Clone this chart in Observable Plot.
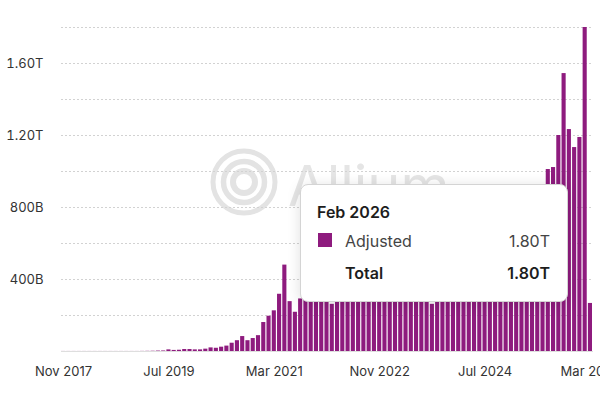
<!DOCTYPE html>
<html>
<head>
<meta charset="utf-8">
<script src="https://cdn.jsdelivr.net/npm/d3@7"></script>
<script src="https://cdn.jsdelivr.net/npm/@observablehq/plot@0.6"></script>
<style>
  html, body { margin: 0; padding: 0; background: #fff; overflow: hidden; }
  #wrap { position: relative; width: 600px; height: 400px; font-family: Inter, "Noto Sans", sans-serif; }
  #wm { position: absolute; left: 0; top: 0; z-index: 0; }
  #chart { position: absolute; left: 0; top: 0; width: 600px; height: 400px; z-index: 1; }
  #tip {
    position: absolute; left: 300px; top: 184px; width: 268px; height: 118px;
    box-sizing: border-box; background: #fff; border: 1px solid #d4d4d4; border-radius: 8px;
    box-shadow: 0 2px 14px rgba(0,0,0,0.13); z-index: 2; font-family: Inter, sans-serif;
  }
  #tip .row { position: absolute; left: 0; right: 0; height: 20px; line-height: 20px; font-size: 16px; }
  #tip .l { position: absolute; left: 44px; }
  #tip .r { position: absolute; right: 17px; }
  #tip .title { left: 16px; font-weight: 600; color: #1d1d1d; }
  #tip .sw { position: absolute; left: 17px; top: 48px; width: 14px; height: 14px; }
</style>
</head>
<body>
<div id="wrap">
  <svg id="wm" width="600" height="400">
    <g fill="none" stroke="#e3e3e3">
      <circle cx="244" cy="182" r="31" stroke-width="5"></circle>
      <circle cx="244" cy="182" r="20.5" stroke-width="5.5"></circle>
      <circle cx="244" cy="182" r="11" stroke-width="6"></circle>
    </g>
    <text x="288" y="206" font-family="Inter, sans-serif" font-size="56" font-weight="400" fill="#e5e5e5">Allium</text>
  </svg>
  <div id="chart"></div>
  <div id="tip"></div>
</div>
<script>
// ---- data ----
const startMonth = "2017-11";
const seriesName = "Adjusted";
const barColor = "#8E1B7E";
// monthly values, in billions (Nov 2017 .. Mar 2026)
const values = [
  0.3, 0.3, 0.3, 0.3, 0.3, 0.3, 0.3, 0.3, 0.3, 0.3,
  0.3, 0.3, 0.3, 0.3, 0.3, 0.6, 1, 1.5, 2.5, 3,
  9, 6, 7, 11, 11, 9, 9, 13, 20, 18,
  24, 30, 46, 60, 83, 60, 72, 88, 161, 196,
  226, 318, 480, 277, 218, 292, 330, 380, 420, 390,
  360, 262, 310, 340, 450, 400, 320, 300, 290, 285,
  380, 300, 300, 310, 380, 300, 290, 285, 280, 300,
  262, 300, 360, 400, 420, 430, 520, 480, 470, 440,
  470, 480, 450, 470, 580, 620, 640, 600, 620, 640,
  700, 720, 1011, 1022, 1200, 1544, 1233, 1133, 1189, 1800,
  267
];
const xTickLabels = ["Nov 2017", "Jul 2019", "Mar 2021", "Nov 2022", "Jul 2024", "Mar 2026"];
const yTickValues = [400, 800, 1200, 1600];
const yGridValues = [200, 400, 600, 800, 1000, 1200, 1400, 1600, 1800];
const tooltipMonth = "Feb 2026";

// ---- build ----
const fmtMonth = d3.utcFormat("%b %Y");
const start = d3.utcParse("%Y-%m")(startMonth);
const months = d3.utcMonth.range(start, d3.utcMonth.offset(start, values.length)).map(fmtMonth);
const data = months.map((m, i) => ({month: m, value: values[i]}));
const fmtVal = v => v >= 1000 ? (v / 1000).toFixed(2) + "T" : (v >= 100 ? Math.round(v) + "B" : v.toFixed(2) + "B");
const fmtAxis = v => v >= 1000 ? (v / 1000).toFixed(2) + "T" : v + "B";

const chart = Plot.plot({
  width: 600,
  height: 400,
  marginLeft: 61,
  marginRight: 7,
  marginTop: 27,
  marginBottom: 49,
  style: {fontFamily: "Inter, sans-serif", fontSize: "13px", color: "#333", background: "transparent", overflow: "visible"},
  x: {type: "band", domain: months, range: [61, 592], paddingInner: 0.22, paddingOuter: 0, round: false, axis: null},
  y: {domain: [0, 1800], axis: null},
  marks: [
    Plot.gridY(yGridValues, {stroke: "#d2d2d2", strokeOpacity: 1, strokeDasharray: "2,2"}),
    Plot.ruleY([0], {stroke: "#dedede"}),
    Plot.barY(data, {x: "month", y: "value", fill: barColor}),
    Plot.axisY(yTickValues, {tickSize: 0, tickPadding: 18, tickFormat: fmtAxis, fill: "#333", label: null}),
    Plot.axisX(xTickLabels, {tickSize: 0, tickPadding: 15, fill: "#333", label: null})
  ]
});
document.getElementById("chart").appendChild(chart);

// ---- tooltip (values from data) ----
const ti = months.indexOf(tooltipMonth);
const tv = values[ti];
const tip = document.getElementById("tip");
tip.innerHTML =
  `<div class="row" style="top:17px"><span class="l title">${months[ti]}</span></div>` +
  `<div class="sw" style="background:${barColor}"></div>` +
  `<div class="row" style="top:46px;color:#444"><span class="l">${seriesName}</span><span class="r">${fmtVal(tv)}</span></div>` +
  `<div class="row" style="top:78px;color:#1d1d1d;font-weight:600"><span class="l">Total</span><span class="r">${fmtVal(tv)}</span></div>`;
</script>
</body>
</html>
